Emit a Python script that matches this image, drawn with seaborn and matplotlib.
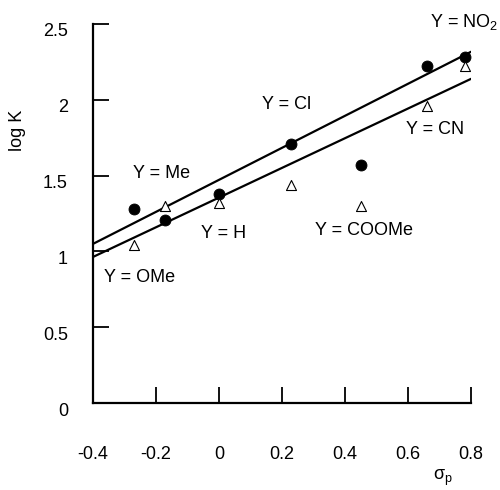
import matplotlib
matplotlib.use("Agg")
import matplotlib.pyplot as plt
import matplotlib.transforms as mtransforms
import seaborn as sns
import pandas as pd
import numpy as np

# ---- data ----
sigma_p = [-0.27, -0.17, 0.00, 0.23, 0.45, 0.66, 0.78]
logK_filled = [1.28, 1.21, 1.38, 1.71, 1.57, 2.22, 2.28]
logK_open = [1.04, 1.30, 1.32, 1.44, 1.30, 1.96, 2.22]

fit_x_range = [-0.4, 0.8]
fit_upper = (1.056, 1.472)   # slope, intercept
fit_lower = (0.979, 1.355)

labels = ["Y = NO$_2$", "Y = Me", "Y = H", "Y = OMe", "Y = Cl", "Y = CN", "Y = COOMe"]
label_x = [0.670, -0.181, 0.013, -0.251, 0.216, 0.686, 0.460]
label_y = [2.48, 1.511, 1.121, 0.831, 1.972, 1.801, 1.135]

x_ticks = [-0.4, -0.2, 0, 0.2, 0.4, 0.6, 0.8]
x_ticklabels = ["-0.4", "-0.2", "0", "0.2", "0.4", "0.6", "0.8"]
y_ticks = [0, 0.5, 1, 1.5, 2, 2.5]
y_ticklabels = ["0", "0.5", "1", "1.5", "2", "2.5"]

# ---- style ----
sns.set_theme(style="white")
plt.rcParams["font.family"] = ["Liberation Sans", "DejaVu Sans"]
plt.rcParams["mathtext.fontset"] = "custom"
plt.rcParams["mathtext.rm"] = "Liberation Sans"
plt.rcParams["mathtext.it"] = "Liberation Sans"
plt.rcParams["mathtext.default"] = "regular"
plt.rcParams["text.color"] = "black"
plt.rcParams["axes.labelcolor"] = "black"
plt.rcParams["xtick.color"] = "black"
plt.rcParams["ytick.color"] = "black"
plt.rcParams["axes.edgecolor"] = "black"
FS = 13

fig = plt.figure(figsize=(5.0, 4.9), dpi=100)
ax = fig.add_axes([93/500, 1 - 403/490, 378/500, 379/490])

df = pd.DataFrame({"sigma": sigma_p, "filled": logK_filled, "open": logK_open})

# fitted lines
xs = np.array(fit_x_range)
for slope, icpt in (fit_upper, fit_lower):
    sns.lineplot(x=xs, y=slope * xs + icpt, color="black", lw=1.6, ax=ax)

sns.scatterplot(data=df, x="sigma", y="filled", marker="o", color="black",
                edgecolor="black", s=62, ax=ax, zorder=5)
sns.scatterplot(data=df, x="sigma", y="open", marker="^", color="white",
                edgecolor="black", linewidth=0.8, s=52, ax=ax, zorder=5)

for t, lx, ly in zip(labels, label_x, label_y):
    if "NO" in t:
        ax.text(lx, ly, t, ha="left", va="baseline", fontsize=FS, clip_on=False)
    else:
        ax.text(lx, ly, t, ha="center", va="center", fontsize=FS)

ax.set_xlim(-0.4, 0.8)
ax.set_ylim(0, 2.5)
ax.set_xticks(x_ticks)
ax.set_xticklabels(x_ticklabels, fontsize=FS)
ax.set_yticks(y_ticks)
ax.set_yticklabels(y_ticklabels, fontsize=FS)
ax.tick_params(axis="both", direction="in", length=11.5, width=1.3, color="black",
               labelcolor="black", left=True, bottom=True)
ax.tick_params(axis="x", pad=31)
ax.tick_params(axis="y", pad=18)

offset = mtransforms.ScaledTranslation(0, -6/100, fig.dpi_scale_trans)
for lab in ax.get_yticklabels():
    lab.set_transform(lab.get_transform() + offset)

for side in ("top", "right"):
    ax.spines[side].set_visible(False)
for side in ("left", "bottom"):
    ax.spines[side].set_color("black")
    ax.spines[side].set_linewidth(1.6)

ax.set_ylabel("log K", fontsize=FS, color="black")
ax.yaxis.set_label_coords((26 - 93) / 378, (403 - 130) / 379)
ax.set_xlabel(r"$\sigma_{p}$", fontsize=FS, color="black")
ax.xaxis.set_label_coords((443 - 93) / 378, (403 - 468) / 379)

fig.savefig("out.png", dpi=100)
